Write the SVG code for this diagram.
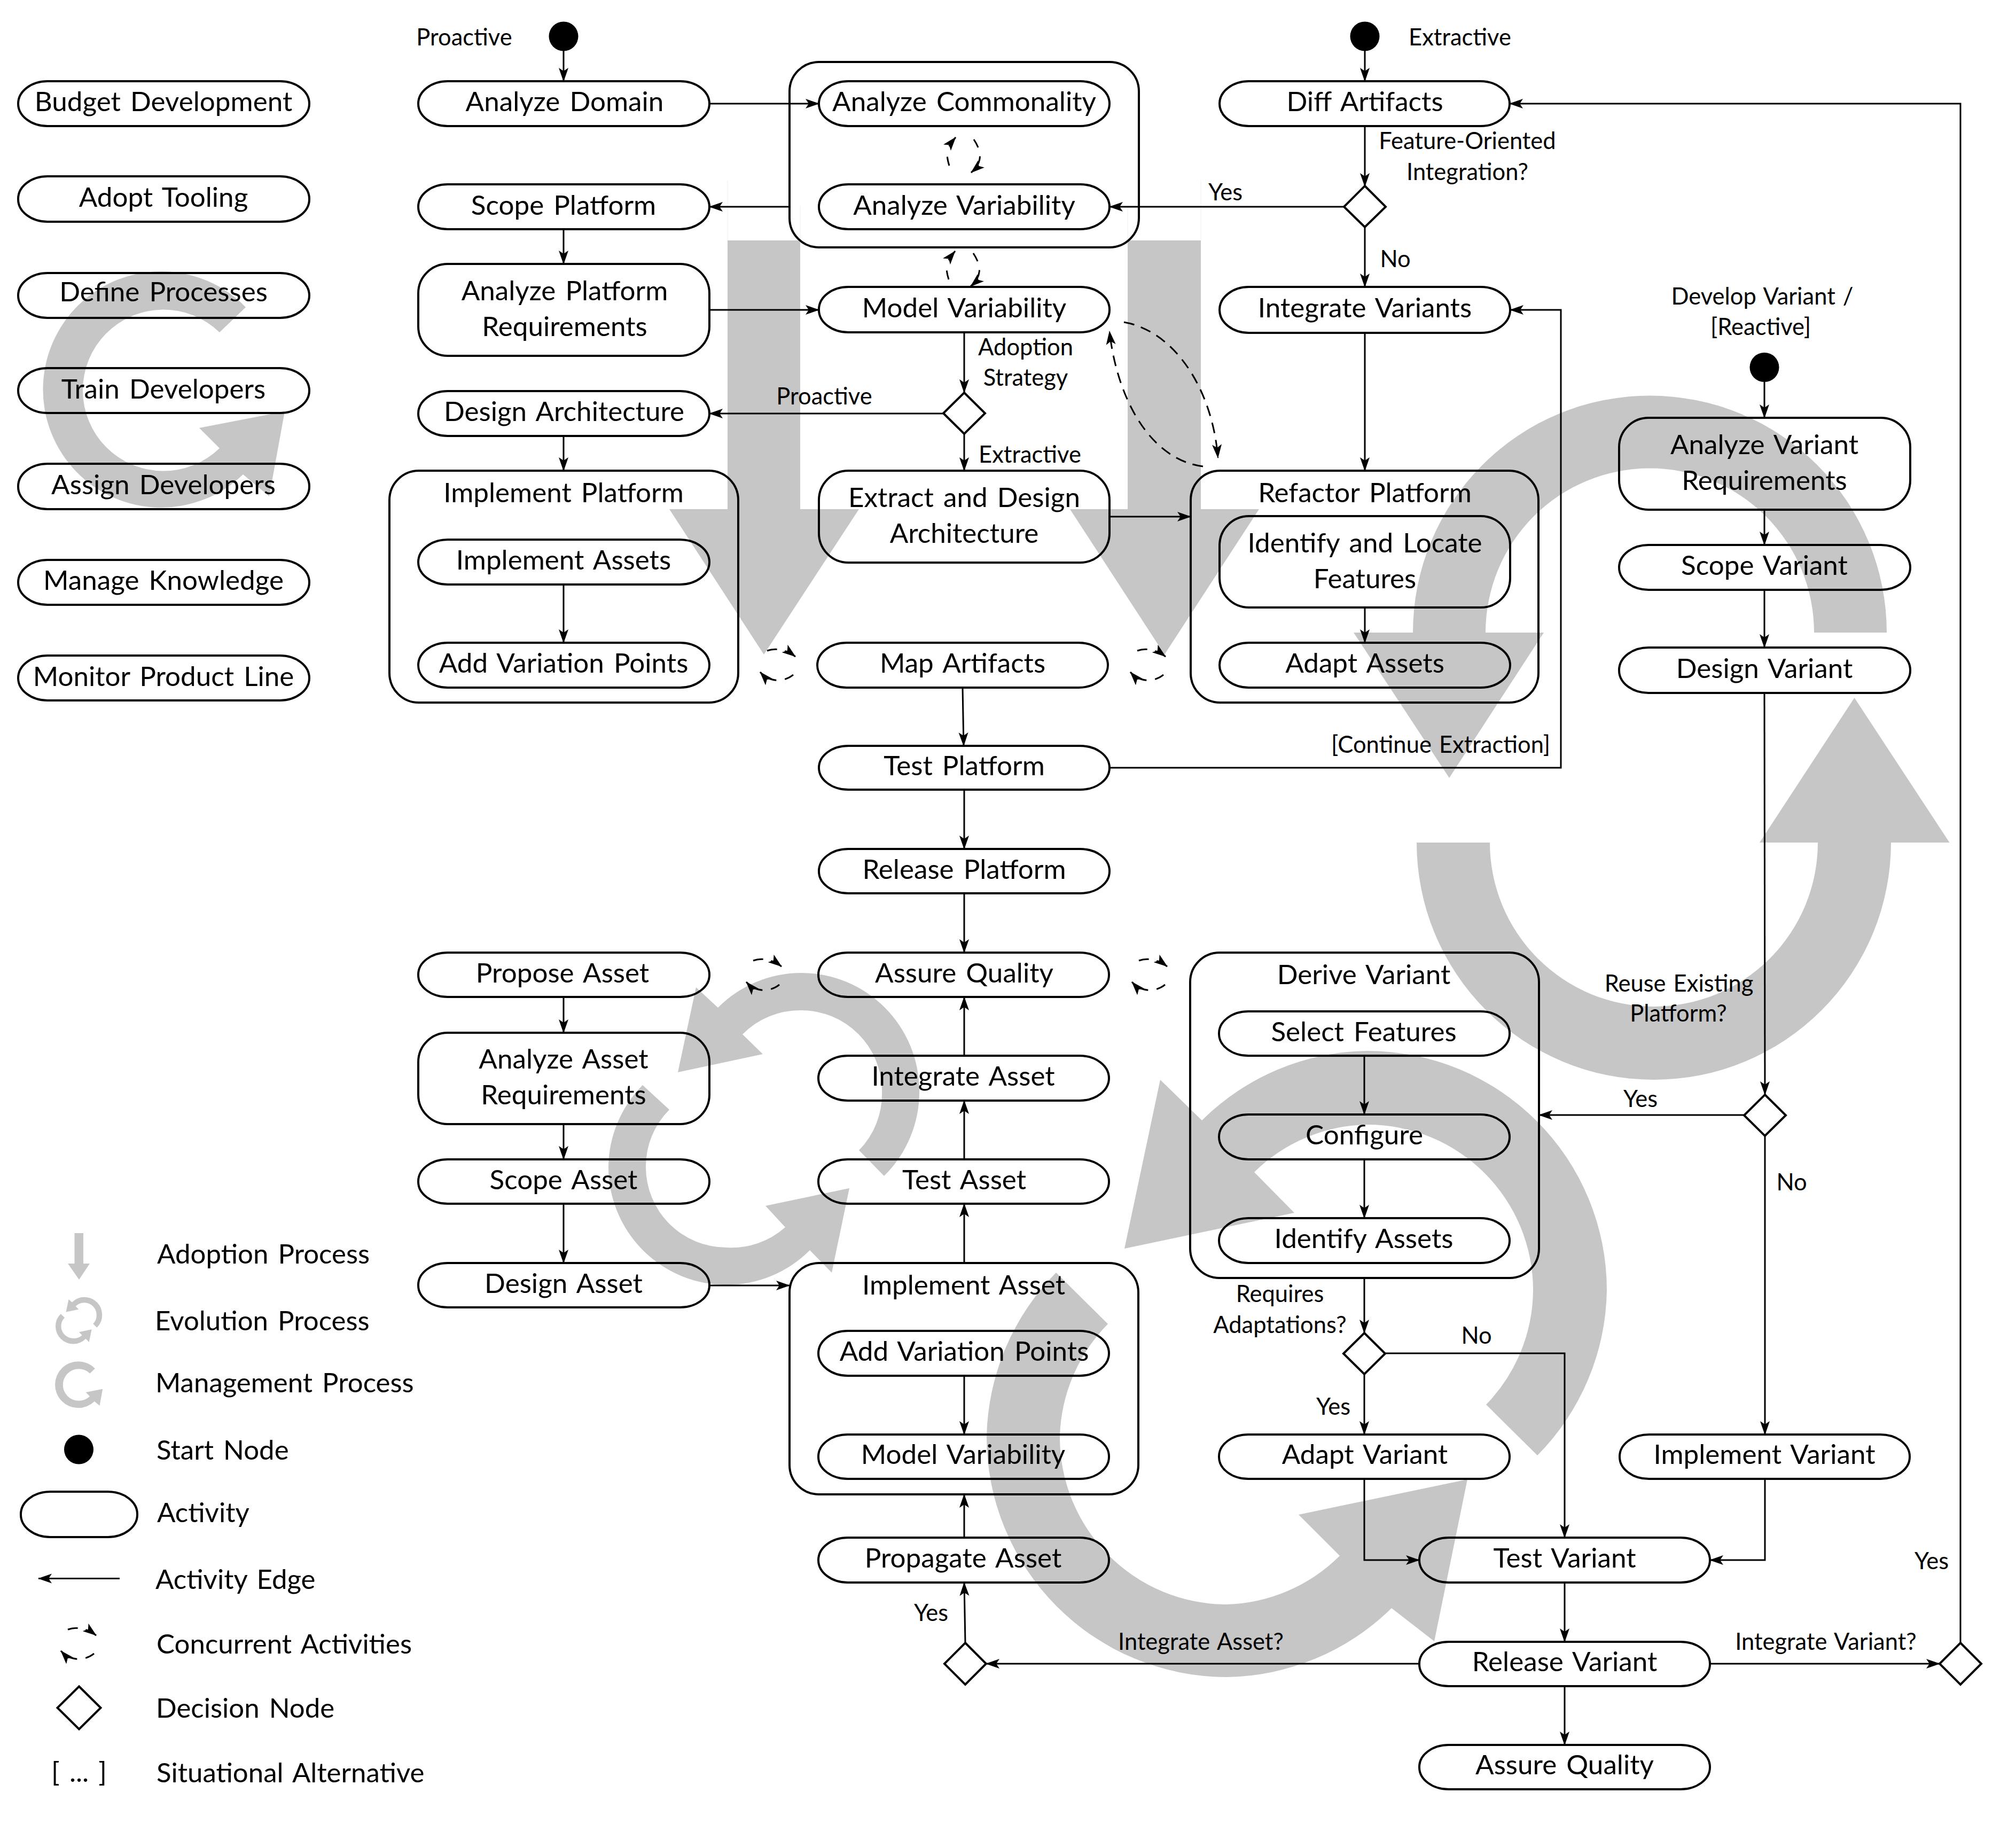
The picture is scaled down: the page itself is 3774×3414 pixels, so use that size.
<svg xmlns="http://www.w3.org/2000/svg" width="3774" height="3414" viewBox="0 0 3774 3414">
<style>
text{font-family:"Lato","Liberation Sans",sans-serif;fill:#000;text-anchor:middle}
.n{font-size:51.2px;word-spacing:5px}
.s{font-size:43.5px;word-spacing:3px}
.l{font-size:51px;word-spacing:5px;text-anchor:start}
.b{fill:none;stroke:#000;stroke-width:4}
.g{fill:#c6c6c6;stroke:none}
.h{fill:none;stroke:#eeeeee;stroke-width:1}
.e{fill:none;stroke:#000;stroke-width:3;marker-end:url(#a)}
.d{fill:none;stroke:#000;stroke-width:3;stroke-dasharray:20 13;marker-end:url(#a)}
.c{fill:none;stroke:#000;stroke-width:3;marker-end:url(#a)}
</style>
<defs>
<marker id="a" markerUnits="userSpaceOnUse" markerWidth="30" markerHeight="22" refX="25" refY="10" orient="auto"><path d="M26,10 L0,1 L6,10 L0,19 Z" fill="#000"/></marker>
<path id="evo" d="M1655,2201 A221,221 0 0 0 1721,2042 A221,221 0 0 0 1500,1821 A221,221 0 0 0 1344,1886 L1303,1848 L1269,2007 L1428,1973 L1390,1936 A151,151 0 0 1 1500,1891 A151,151 0 0 1 1651,2042 A151,151 0 0 1 1608,2153 Z M1203,2031 A221,221 0 0 0 1139,2184 A221,221 0 0 0 1360,2405 A221,221 0 0 0 1516,2340 L1557,2382 L1590,2224 L1433,2257 L1470,2297 A151,151 0 0 1 1360,2335 A151,151 0 0 1 1209,2184 A151,151 0 0 1 1253,2077 Z"/>
<path id="mgmt" d="M460,575 A221,221 0 1 0 455,888 L504,929 L533,770 L373,801 L411,839 A151,151 0 1 1 411,622 Z"/>
<g id="conH"><path class="c" style="stroke-dasharray:19 15 60" d="M-21,-26 C-5,-32 15,-28 32,-15"/><path class="c" style="stroke-dasharray:18 16 60" d="M28,19 C12,32 -15,35 -34,14"/></g>
<g id="conV"><path class="c" style="stroke-dasharray:17 17 60" d="M19,-29 C35,-5 35,15 14,33"/><path class="c" style="stroke-dasharray:17 20 60" d="M-27,20 C-35,-5 -30,-15 -15,-33"/></g>
</defs>

<g id="process-arrows">
<path class="h" d="M1362,338V450M1498,385V450M2111,385V450M2248,338V450"/>
<path class="g" d="M1362,450H1498V953H1608L1430,1225L1253,953H1362Z"/>
<path class="g" d="M2111,450H2248V953H2357L2180,1225L2003,953H2111Z"/>
<use href="#mgmt" class="g"/>
<use href="#evo" class="g"/>
<path class="g" d="M2878,2724 A448,448 0 0 0 3008,2415 A448,448 0 0 0 2560,1967 A448,448 0 0 0 2250,2097 L2172,2021 L2105,2337 L2423,2270 L2348,2194 A310,310 0 0 1 2560,2105 A310,310 0 0 1 2870,2415 A310,310 0 0 1 2782,2629 Z"/>
<path class="g" d="M1977,2382 A450,450 0 0 0 1847,2688 A450,450 0 0 0 2296,3139 A450,450 0 0 0 2605,3010 L2685,3072 L2747,2769 L2431,2835 L2508,2912 A313,313 0 0 1 2296,3003 A313,313 0 0 1 1984,2688 A313,313 0 0 1 2074,2478 Z"/>
<path class="g" d="M3532,1184 A443.5,443.5 0 0 0 2645,1184 L2534,1184 L2713,1456 L2890,1184 L2781,1184 A307.5,307.5 0 0 1 3396,1184 Z"/>
<path class="g" d="M2652,1577 A444,444 0 0 0 3540,1577 L3649.5,1577 L3471.5,1306 L3294,1577 L3403,1577 A307,307 0 0 1 2789,1577 Z"/>
</g>

<g id="connectors">
<path class="e" d="M1055,95V152"/>
<path class="e" d="M1328,194H1533"/>
<path class="e" d="M1478,387H1328"/>
<path class="e" d="M1055,429V494"/>
<path class="e" d="M1328,580H1533"/>
<path class="e" d="M1805,622V735"/>
<path class="e" d="M1766,774H1328"/>
<path class="e" d="M1805,812V881"/>
<path class="e" d="M2077,967H2229"/>
<path class="e" d="M1055,816V881"/>
<path class="e" d="M1055,1094V1203"/>
<path class="e" d="M1802,1287L1804,1396"/>
<path class="e" d="M1805,1478V1589"/>
<path class="e" d="M1805,1672V1783"/>
<path class="e" d="M1805,1976V1866"/>
<path class="e" d="M1805,2170V2060"/>
<path class="e" d="M1805,2364V2253"/>
<path class="e" d="M1805,2575V2685"/>
<path class="e" d="M1805,2878V2797"/>
<path class="e" d="M1807,3075L1805,2962"/>
<path class="e" d="M2657,3114H1846"/>
<path class="e" d="M1055,1866V1933"/>
<path class="e" d="M1055,2103V2170"/>
<path class="e" d="M1055,2253V2364"/>
<path class="e" d="M1328,2406H1478"/>
<path class="e" d="M2555,95V152"/>
<path class="e" d="M2555,236V349"/>
<path class="e" d="M2516,387H2077"/>
<path class="e" d="M2555,425V537"/>
<path class="e" d="M2555,623V881"/>
<path class="e" d="M2555,1137V1203"/>
<path class="e" d="M2077,1437H2922V580H2827"/>
<path class="e" d="M3303,715V782"/>
<path class="e" d="M3303,954V1020"/>
<path class="e" d="M3303,1104V1212"/>
<path class="e" d="M3303,1297L3304,2049"/>
<path class="e" d="M3265,2087H2881"/>
<path class="e" d="M3304,2126V2685"/>
<path class="e" d="M2554,1976V2086"/>
<path class="e" d="M2554,2170V2280"/>
<path class="e" d="M2554,2392V2495"/>
<path class="e" d="M2554,2572V2685"/>
<path class="e" d="M2593,2533H2929V2878"/>
<path class="e" d="M2554,2768V2920H2657"/>
<path class="e" d="M3304,2768V2920H3201"/>
<path class="e" d="M2929,2962V3073"/>
<path class="e" d="M2929,3155V3266"/>
<path class="e" d="M3201,3114H3631"/>
<path class="e" d="M3670,3075V194H2826"/>
<path class="d" d="M2104,603C2200,620 2270,730 2280,857"/>
<path class="d" d="M2252,873C2150,860 2090,740 2077,620"/>
<use href="#conV" x="1804" y="290"/>
<use href="#conV" x="1803" y="503"/>
<use href="#conH" x="1457" y="1244"/>
<use href="#conH" x="2150" y="1244"/>
<use href="#conH" x="1431" y="1824"/>
<use href="#conH" x="2153" y="1824"/>
</g>

<g id="budget"><rect class="b" x="34" y="152" width="545" height="84" rx="55" ry="42"/><text class="n" x="306" y="208">Budget Development</text></g>
<g id="tooling"><rect class="b" x="34" y="330" width="545" height="85" rx="55" ry="42"/><text class="n" x="306" y="387">Adopt Tooling</text></g>
<g id="processes"><rect class="b" x="34" y="511" width="545" height="84" rx="55" ry="42"/><text class="n" x="306" y="564">Define Processes</text></g>
<g id="train"><rect class="b" x="34" y="689" width="545" height="84" rx="55" ry="42"/><text class="n" x="306" y="746">Train Developers</text></g>
<g id="assign"><rect class="b" x="34" y="868" width="545" height="85" rx="55" ry="42"/><text class="n" x="306" y="925">Assign Developers</text></g>
<g id="knowledge"><rect class="b" x="34" y="1048" width="545" height="84" rx="55" ry="42"/><text class="n" x="306" y="1104">Manage Knowledge</text></g>
<g id="monitor"><rect class="b" x="34" y="1227" width="545" height="84" rx="55" ry="42"/><text class="n" x="306" y="1284">Monitor Product Line</text></g>

<g id="start-proactive"><circle cx="1055" cy="68" r="27.5"/><text class="s" x="869" y="85">Proactive</text></g>
<g id="analyze-domain"><rect class="b" x="783" y="152" width="545" height="84" rx="55" ry="42"/><text class="n" x="1057" y="208">Analyze Domain</text></g>
<g id="scope-platform"><rect class="b" x="783" y="345" width="545" height="84" rx="55" ry="42"/><text class="n" x="1055" y="402">Scope Platform</text></g>
<g id="analyze-platform"><rect class="b" x="783" y="494" width="545" height="172" rx="55"/><text class="n" x="1057" y="562">Analyze Platform</text><text class="n" x="1057" y="629">Requirements</text></g>
<g id="design-arch"><rect class="b" x="783" y="732" width="545" height="84" rx="55" ry="42"/><text class="n" x="1056" y="788">Design Architecture</text></g>
<g id="implement-platform"><rect class="b" x="729" y="881" width="653" height="434" rx="55"/><text class="n" x="1055" y="940">Implement Platform</text></g>
<g id="implement-assets"><rect class="b" x="783" y="1010" width="545" height="84" rx="55" ry="42"/><text class="n" x="1055" y="1066">Implement Assets</text></g>
<g id="add-vp-1"><rect class="b" x="783" y="1203" width="545" height="84" rx="55" ry="42"/><text class="n" x="1055" y="1259">Add Variation Points</text></g>

<g id="commonality-group"><rect class="b" x="1478" y="116" width="654" height="347" rx="55"/></g>
<g id="analyze-commonality"><rect class="b" x="1533" y="152" width="544" height="84" rx="55" ry="42"/><text class="n" x="1805" y="208">Analyze Commonality</text></g>
<g id="analyze-variability"><rect class="b" x="1533" y="345" width="544" height="84" rx="55" ry="42"/><text class="n" x="1805" y="402">Analyze Variability</text></g>
<g id="model-variability"><rect class="b" x="1533" y="537" width="544" height="85" rx="55" ry="42"/><text class="n" x="1805" y="594">Model Variability</text></g>
<g id="strategy"><polygon class="b" points="1805,735 1844,773.5 1805,812 1766,773.5"/></g>
<g id="extract"><rect class="b" x="1533" y="881" width="544" height="172" rx="55"/><text class="n" x="1805" y="949">Extract and Design</text><text class="n" x="1805" y="1016">Architecture</text></g>
<g id="map"><rect class="b" x="1530" y="1203" width="544" height="84" rx="55" ry="42"/><text class="n" x="1802" y="1259">Map Artifacts</text></g>
<g id="test-platform"><rect class="b" x="1533" y="1396" width="544" height="82" rx="55" ry="41"/><text class="n" x="1805" y="1451">Test Platform</text></g>
<g id="release-platform"><rect class="b" x="1533" y="1589" width="544" height="83" rx="55" ry="41"/><text class="n" x="1805" y="1645">Release Platform</text></g>

<g id="start-extractive"><circle cx="2555" cy="68" r="27.5"/><text class="s" x="2733" y="85">Extractive</text></g>
<g id="diff"><rect class="b" x="2283" y="152" width="543" height="84" rx="55" ry="42"/><text class="n" x="2555" y="208">Diff Artifacts</text></g>
<g id="feature-oriented"><polygon class="b" points="2555,348 2594,387 2555,425 2516,387"/></g>
<g id="integrate-variants"><rect class="b" x="2283" y="537" width="544" height="86" rx="55" ry="43"/><text class="n" x="2555" y="594">Integrate Variants</text></g>
<g id="refactor"><rect class="b" x="2229" y="881" width="651" height="434" rx="55"/><text class="n" x="2555" y="940">Refactor Platform</text></g>
<g id="identify"><rect class="b" x="2283" y="966" width="544" height="171" rx="55"/><text class="n" x="2555" y="1034">Identify and Locate</text><text class="n" x="2555" y="1101">Features</text></g>
<g id="adapt-assets"><rect class="b" x="2283" y="1203" width="544" height="84" rx="55" ry="42"/><text class="n" x="2555" y="1259">Adapt Assets</text></g>

<g id="start-develop"><circle cx="3303" cy="687.5" r="27.5"/><text class="s" x="3299" y="570">Develop Variant /</text><text class="s" x="3296" y="627">[Reactive]</text></g>
<g id="analyze-variant"><rect class="b" x="3031" y="782" width="545" height="172" rx="55"/><text class="n" x="3303" y="850">Analyze Variant</text><text class="n" x="3303" y="917">Requirements</text></g>
<g id="scope-variant"><rect class="b" x="3031" y="1020" width="545" height="84" rx="55" ry="42"/><text class="n" x="3303" y="1076">Scope Variant</text></g>
<g id="design-variant"><rect class="b" x="3031" y="1212" width="545" height="85" rx="55" ry="42"/><text class="n" x="3303" y="1269">Design Variant</text></g>
<g id="reuse"><polygon class="b" points="3304,2049 3343,2087.5 3304,2126 3265,2087.5"/></g>

<g id="propose"><rect class="b" x="783" y="1783" width="545" height="83" rx="55" ry="41"/><text class="n" x="1053" y="1839">Propose Asset</text></g>
<g id="analyze-asset"><rect class="b" x="783" y="1933" width="545" height="171" rx="55"/><text class="n" x="1055" y="2000">Analyze Asset</text><text class="n" x="1055" y="2067">Requirements</text></g>
<g id="scope-asset"><rect class="b" x="783" y="2170" width="545" height="83" rx="55" ry="41"/><text class="n" x="1055" y="2226">Scope Asset</text></g>
<g id="design-asset"><rect class="b" x="783" y="2364" width="545" height="83" rx="55" ry="41"/><text class="n" x="1055" y="2420">Design Asset</text></g>

<g id="assure-1"><rect class="b" x="1532" y="1783" width="544" height="83" rx="55" ry="41"/><text class="n" x="1805" y="1839">Assure Quality</text></g>
<g id="integrate-asset"><rect class="b" x="1532" y="1976" width="544" height="84" rx="55" ry="42"/><text class="n" x="1803" y="2032">Integrate Asset</text></g>
<g id="test-asset"><rect class="b" x="1532" y="2170" width="544" height="83" rx="55" ry="41"/><text class="n" x="1805" y="2226">Test Asset</text></g>
<g id="implement-asset"><rect class="b" x="1478" y="2364" width="653" height="433" rx="55"/><text class="n" x="1804" y="2423">Implement Asset</text></g>
<g id="add-vp-2"><rect class="b" x="1532" y="2491" width="544" height="84" rx="55" ry="42"/><text class="n" x="1805" y="2547">Add Variation Points</text></g>
<g id="model-2"><rect class="b" x="1532" y="2685" width="544" height="83" rx="55" ry="41"/><text class="n" x="1803" y="2740">Model Variability</text></g>
<g id="propagate"><rect class="b" x="1532" y="2878" width="544" height="84" rx="55" ry="42"/><text class="n" x="1803" y="2934">Propagate Asset</text></g>
<g id="integrate-asset-q"><polygon class="b" points="1807,3075 1846,3114 1807,3153 1768,3114"/></g>

<g id="derive"><rect class="b" x="2228" y="1783" width="653" height="609" rx="55"/><text class="n" x="2553" y="1842">Derive Variant</text></g>
<g id="select"><rect class="b" x="2282" y="1893" width="544" height="83" rx="55" ry="41"/><text class="n" x="2553" y="1949">Select Features</text></g>
<g id="configure"><rect class="b" x="2282" y="2086" width="544" height="84" rx="55" ry="42"/><text class="n" x="2554" y="2142">Configure</text></g>
<g id="identify-assets"><rect class="b" x="2282" y="2280" width="544" height="84" rx="55" ry="42"/><text class="n" x="2553" y="2336">Identify Assets</text></g>
<g id="requires"><polygon class="b" points="2554,2495 2593,2533.5 2554,2572 2515,2533.5"/></g>
<g id="adapt-variant"><rect class="b" x="2282" y="2685" width="544" height="83" rx="55" ry="41"/><text class="n" x="2555" y="2740">Adapt Variant</text></g>
<g id="implement-variant"><rect class="b" x="3032" y="2685" width="543" height="83" rx="55" ry="41"/><text class="n" x="3303" y="2740">Implement Variant</text></g>
<g id="test-variant"><rect class="b" x="2657" y="2878" width="544" height="84" rx="55" ry="42"/><text class="n" x="2929" y="2934">Test Variant</text></g>
<g id="release-variant"><rect class="b" x="2657" y="3073" width="544" height="83" rx="55" ry="41"/><text class="n" x="2929" y="3128">Release Variant</text></g>
<g id="assure-2"><rect class="b" x="2657" y="3266" width="544" height="83" rx="55" ry="41"/><text class="n" x="2929" y="3321">Assure Quality</text></g>
<g id="integrate-variant-q"><polygon class="b" points="3670,3075 3709,3114 3670,3153 3631,3114"/></g>

<g id="edge-labels">
<text class="s" x="2747" y="279">Feature-Oriented</text>
<text class="s" x="2747" y="337">Integration?</text>
<text class="s" x="2294" y="375">Yes</text>
<text class="s" x="2612" y="500">No</text>
<text class="s" x="1920" y="665">Adoption</text>
<text class="s" x="1920" y="722">Strategy</text>
<text class="s" x="1543" y="757">Proactive</text>
<text class="s" x="1928" y="866">Extractive</text>
<text class="s" x="2902" y="1409" style="text-anchor:end">[Continue Extraction]</text>
<text class="s" x="3143" y="1856">Reuse Existing</text>
<text class="s" x="3142" y="1912">Platform?</text>
<text class="s" x="3071" y="2072">Yes</text>
<text class="s" x="3354" y="2228">No</text>
<text class="s" x="2396" y="2437">Requires</text>
<text class="s" x="2396" y="2495">Adaptations?</text>
<text class="s" x="2764" y="2515">No</text>
<text class="s" x="2496" y="2648">Yes</text>
<text class="s" x="3616" y="2937">Yes</text>
<text class="s" x="2248" y="3088">Integrate Asset?</text>
<text class="s" x="3418" y="3088">Integrate Variant?</text>
<text class="s" x="1743" y="3034">Yes</text>
</g>

<g id="legend">
<path class="g" d="M139.5,2308H156V2365H168L148,2395L127,2365H139.5Z"/>
<use href="#evo" class="g" transform="translate(-66.9,2154.7) scale(.15)"/>
<use href="#mgmt" class="g" transform="translate(87.2,2448.1) scale(.197)"/>
<circle cx="147.5" cy="2713" r="27.5"/>
<rect class="b" x="39" y="2792" width="218" height="85" rx="55" ry="42"/>
<path class="e" d="M224,2954.5H72"/>
<use href="#conH" x="148" y="3076"/>
<polygon class="b" points="148,3156.5 188.5,3196.5 148,3236.5 107.5,3196.5"/>
<text class="n" x="148" y="3335">[ ... ]</text>
<text class="l" x="294" y="2365">Adoption Process</text>
<text class="l" x="290" y="2490">Evolution Process</text>
<text class="l" x="291" y="2606">Management Process</text>
<text class="l" x="293" y="2732">Start Node</text>
<text class="l" x="294" y="2849">Activity</text>
<text class="l" x="291" y="2974">Activity Edge</text>
<text class="l" x="293" y="3095">Concurrent Activities</text>
<text class="l" x="292" y="3215">Decision Node</text>
<text class="l" x="293" y="3336">Situational Alternative</text>
</g>
</svg>
